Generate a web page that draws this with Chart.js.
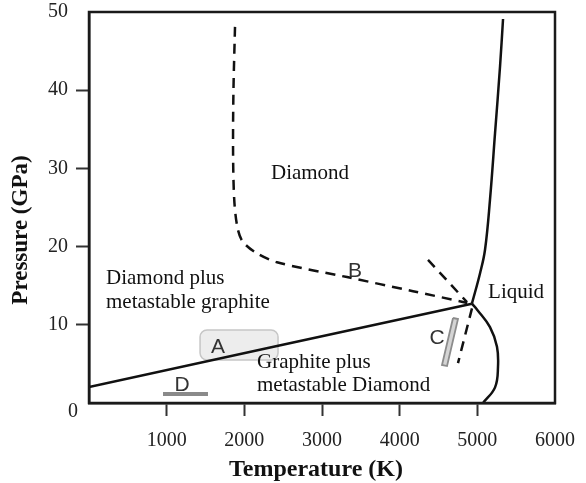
<!DOCTYPE html>
<html>
<head>
<meta charset="utf-8">
<script src="https://cdn.jsdelivr.net/npm/chart.js@4.4.1/dist/chart.umd.min.js"></script>
<style>
  html, body { margin: 0; padding: 0; background: #fff; }
  canvas { display: block; }
</style>
</head>
<body>
<canvas id="phase" width="586" height="483"></canvas>
<script>
const ctx = document.getElementById("phase");

// axes
const tempRange = [0, 6000];
const pressRange = [0, 50];

// graphite / diamond equilibrium line (solid)
const gdTemp = [0, 4930];
const gdPress = [2.05, 12.7];

// diamond melting line (solid)
const diaMeltTemp = [4930, 5035, 5099, 5163, 5228, 5292, 5331];
const diaMeltPress = [12.7, 16.6, 19.6, 26.0, 34.5, 43.0, 49.1];

// graphite melting line (solid)
const grMeltTemp = [4930, 5000, 5163, 5253, 5266, 5228, 5073];
const grMeltPress = [12.7, 11.9, 9.7, 7.2, 4.6, 2.0, 0];

// metastable graphite limit (dashed)
const metaTemp = [1880, 1860, 1855, 1870, 1910, 1975, 2137, 2421, 3322, 4172, 4870];
const metaPress = [48.1, 40, 32, 26, 22.5, 20.7, 19.3, 18.0, 16.1, 14.3, 12.8];

// short dashed lines near the triple point
const shortTemp = [4365, 4867];
const shortPress = [18.3, 12.9];
const lowTemp = [4931, 4751];
const lowPress = [12.1, 5.1];

// experiment regions
const boxA = { t: [1430, 2434], p: [5.5, 9.34] };
const barDTemp = [953, 1532];
const barDPress = [1.15, 1.15];
const cTemp = [4687, 4751, 4610, 4545, 4687];
const cPress = [10.87, 10.74, 4.73, 4.86, 10.87];

// text labels
const regionLabels = [
  { text: "Diamond", t: 2846, p: 29.4, align: "center" },
  { text: "Diamond plus", t: 219, p: 15.86, align: "left" },
  { text: "metastable graphite", t: 219, p: 12.79, align: "left" },
  { text: "Graphite plus", t: 2163, p: 5.24, align: "left" },
  { text: "metastable Diamond", t: 2163, p: 2.3, align: "left" },
  { text: "Liquid", t: 5138, p: 14.07, align: "left" },
];
const letterLabels = [
  { text: "A", t: 1661, p: 7.16 },
  { text: "B", t: 3425, p: 16.9 },
  { text: "C", t: 4481, p: 8.3 },
  { text: "D", t: 1197, p: 2.3 },
];

const zip = (xs, ys) => xs.map((x, i) => ({ x: x, y: ys[i] }));

const solid = (data) => ({
  data: data,
  showLine: true,
  borderColor: "#111",
  borderWidth: 2.5,
  pointRadius: 0,
  tension: 0.4,
  fill: false,
});
const dashed = (data) => ({
  ...solid(data),
  tension: 0.3,
  borderDash: [10, 7],
});

const overlay = {
  id: "overlay",
  beforeDatasetsDraw(chart) {
    const c = chart.ctx;
    const x = chart.scales.x, y = chart.scales.y;
    const x0 = x.getPixelForValue(boxA.t[0]), x1 = x.getPixelForValue(boxA.t[1]);
    const y0 = y.getPixelForValue(boxA.p[1]), y1 = y.getPixelForValue(boxA.p[0]);
    c.save();
    c.beginPath();
    c.roundRect(x0, y0, x1 - x0, y1 - y0, 7);
    c.fillStyle = "#ededed";
    c.fill();
    c.strokeStyle = "#c6c6c6";
    c.lineWidth = 1.5;
    c.stroke();
    c.restore();
  },
  afterDraw(chart) {
    const c = chart.ctx;
    const a = chart.chartArea;
    const x = chart.scales.x, y = chart.scales.y;
    c.save();
    c.strokeStyle = "#1a1a1a";
    c.lineWidth = 2.5;
    c.strokeRect(a.left, a.top, a.right - a.left, a.bottom - a.top);

    c.fillStyle = "#111";
    c.textBaseline = "middle";
    c.font = "21px 'Liberation Serif'";
    regionLabels.forEach((l) => {
      c.textAlign = l.align;
      c.fillText(l.text, x.getPixelForValue(l.t), y.getPixelForValue(l.p));
    });
    c.font = "21px 'Liberation Sans'";
    c.fillStyle = "#333";
    c.textAlign = "center";
    letterLabels.forEach((l) => {
      c.fillText(l.text, x.getPixelForValue(l.t), y.getPixelForValue(l.p));
    });

    // corner zero
    c.fillStyle = "#222";
    c.font = "20px 'Liberation Serif'";
    c.fillText("0", 73, 412);

    // axis titles
    c.fillStyle = "#111";
    c.font = "bold 24px 'Liberation Serif'";
    c.fillText("Temperature (K)", 316, 470);
    c.font = "bold 23px 'Liberation Serif'";
    c.translate(21, 230);
    c.rotate(-Math.PI / 2);
    c.fillText("Pressure (GPa)", 0, 0);
    c.restore();
  },
};

new Chart(ctx, {
  type: "scatter",
  data: {
    datasets: [
      solid(zip(gdTemp, gdPress)),
      solid(zip(diaMeltTemp, diaMeltPress)),
      solid(zip(grMeltTemp, grMeltPress)),
      dashed(zip(metaTemp, metaPress)),
      dashed(zip(shortTemp, shortPress)),
      dashed(zip(lowTemp, lowPress)),
      {
        data: zip(barDTemp, barDPress),
        showLine: true,
        borderColor: "#8a8a8a",
        borderWidth: 4,
        pointRadius: 0,
      },
      {
        data: zip(cTemp, cPress),
        showLine: true,
        borderColor: "#8c8c8c",
        backgroundColor: "#d4d4d4",
        borderWidth: 1.8,
        pointRadius: 0,
        fill: "shape",
      },
    ],
  },
  options: {
    responsive: false,
    animation: false,
    devicePixelRatio: 1,
    layout: { padding: { top: 12, right: 31, left: 0, bottom: 0 } },
    plugins: {
      legend: { display: false },
      tooltip: { enabled: false },
    },
    scales: {
      x: {
        type: "linear",
        min: tempRange[0],
        max: tempRange[1],
        afterFit: (s) => {
          s.height = 80;
          s.paddingLeft = 0;
          s.paddingRight = 0;
        },
        ticks: {
          stepSize: 1000,
          padding: 13,
          color: "#222",
          font: { family: "'Liberation Serif'", size: 20 },
          callback: (v) => (v === 0 ? "" : v),
        },
        grid: {
          drawOnChartArea: false,
          tickLength: 13,
          tickWidth: 2,
          tickColor: (c) => (c.tick && (c.tick.value === 0 || c.tick.value === 6000) ? "rgba(0,0,0,0)" : "#333"),
        },
        border: { display: true, color: "#1a1a1a", width: 2.5 },
      },
      y: {
        type: "linear",
        min: pressRange[0],
        max: pressRange[1],
        afterFit: (s) => {
          s.width = 89;
          s.paddingTop = 0;
          s.paddingBottom = 0;
        },
        ticks: {
          stepSize: 10,
          padding: 8,
          color: "#222",
          font: { family: "'Liberation Serif'", size: 20 },
          callback: (v) => (v === 0 ? "" : v),
        },
        grid: {
          drawOnChartArea: false,
          tickLength: 13,
          tickWidth: 2,
          tickColor: (c) => (c.tick && (c.tick.value === 0 || c.tick.value === 50) ? "rgba(0,0,0,0)" : "#333"),
        },
        border: { display: true, color: "#1a1a1a", width: 2.5 },
      },
    },
  },
  plugins: [overlay],
});
</script>
</body>
</html>
